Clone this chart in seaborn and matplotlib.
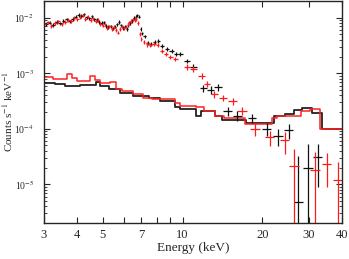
import numpy as np
import seaborn as sns
import matplotlib
matplotlib.use("Agg")
import matplotlib.pyplot as plt
from matplotlib.ticker import FixedLocator, FixedFormatter, LogLocator, NullFormatter

# spectrum 1 (black) data points: energy, half bin width, counts, error
blk_e = [3.05, 3.15, 3.25, 3.35, 3.45, 3.55, 3.65, 3.75, 3.85, 3.95,
         4.05, 4.15, 4.25, 4.35, 4.45, 4.55, 4.65, 4.75, 4.85, 4.95,
         5.05, 5.15, 5.25, 5.35, 5.45, 5.55, 5.65, 5.75, 5.85, 5.95,
         6.05, 6.15, 6.25, 6.35, 6.45, 6.55, 6.65, 6.75, 6.85, 6.95,
         7.05, 7.2, 7.4, 7.6, 7.85, 8.1, 8.4, 8.75, 9.1, 9.45,
         9.8, 10.4, 11.0, 12.0, 12.8, 13.6, 14.8, 16.1, 18.3, 20.8,
         22.9, 25.2, 27.4, 29.8, 32.4]
blk_dx = [0.05] * 40 + [0.05, 0.08, 0.1, 0.1, 0.12, 0.12, 0.15, 0.18, 0.18, 0.18,
                        0.2, 0.25, 0.3, 0.35, 0.4, 0.45, 0.55, 0.6, 0.7, 0.8,
                        1.0, 1.0, 1.1, 1.2, 1.3]
blk_y = [7.6e-3, 8.2e-3, 7.4e-3, 8.4e-3, 7.9e-3, 8.8e-3, 9.3e-3, 8.6e-3, 9.6e-3, 1.05e-2,
         1.12e-2, 1.08e-2, 1.15e-2, 1.02e-2, 9.8e-3, 1.06e-2, 9.4e-3, 9.0e-3, 8.4e-3, 8.0e-3,
         8.3e-3, 7.1e-3, 6.8e-3, 7.0e-3, 6.4e-3, 6.9e-3, 7.6e-3, 8.4e-3, 7.3e-3, 6.6e-3,
         6.9e-3, 6.3e-3, 7.4e-3, 8.0e-3, 8.8e-3, 9.9e-3, 1.05e-2, 1.1e-2, 1.04e-2, 6.2e-3,
         5.2e-3, 4.6e-3, 3.5e-3, 3.4e-3, 3.6e-3, 3.8e-3, 3.1e-3, 2.75e-3, 2.5e-3, 2.2e-3,
         2.2e-3, 1.67e-3, 1.3e-3, 5.4e-4, 5.0e-4, 5.6e-4, 2.1e-4, 1.7e-4, 1.56e-4, 1.0e-4,
         7.3e-5, 9.4e-5, 4.7e-6, 2.0e-5, 3.1e-5]
blk_dy = [6e-4, 6e-4, 6e-4, 6e-4, 6e-4, 6e-4, 7e-4, 6e-4, 7e-4, 7e-4,
          8e-4, 8e-4, 8e-4, 7e-4, 7e-4, 8e-4, 7e-4, 7e-4, 6e-4, 6e-4,
          6e-4, 5e-4, 5e-4, 5e-4, 5e-4, 5e-4, 6e-4, 6e-4, 5e-4, 5e-4,
          5e-4, 5e-4, 5e-4, 6e-4, 6e-4, 7e-4, 7e-4, 7e-4, 7e-4, 5e-4,
          4e-4, 3.5e-4, 3e-4, 3e-4, 3e-4, 3e-4, 2.5e-4, 2.2e-4, 2e-4, 1.8e-4,
          1.8e-4, 1.6e-4, 1.4e-4, 8e-5, 8e-5, 8e-5, 4e-5, 3.5e-5, 3e-5, 2.5e-5,
          2.5e-5, 2.8e-5, 2.8e-5, 3.3e-5, 2.2e-5]

# spectrum 2 (red) data points
red_e = [3.0, 3.1, 3.2, 3.3, 3.4, 3.5, 3.6, 3.7, 3.8, 3.9,
         4.0, 4.1, 4.2, 4.3, 4.4, 4.5, 4.6, 4.7, 4.8, 4.9,
         5.0, 5.1, 5.2, 5.3, 5.4, 5.5, 5.6, 5.7, 5.8, 5.9,
         6.0, 6.1, 6.2, 6.3, 6.4, 6.5, 6.6, 6.7, 6.8, 6.9,
         7.0, 7.15, 7.35, 7.55, 7.8, 8.05, 8.35, 8.65, 9.0, 9.4,
         10.4, 11.0, 11.8, 12.4, 13.2, 14.2, 15.5, 16.8, 18.8, 21.3,
         24.3, 26.4, 31.6, 35.1, 38.6]
red_dx = [0.05] * 40 + [0.05, 0.08, 0.1, 0.1, 0.12, 0.12, 0.15, 0.15, 0.18, 0.2,
                        0.25, 0.3, 0.35, 0.35, 0.4, 0.5, 0.6, 0.7, 0.8, 0.9,
                        1.0, 1.1, 1.3, 1.4, 1.5]
red_y = [7.8e-3, 8.3e-3, 7.2e-3, 8.0e-3, 8.6e-3, 7.6e-3, 8.4e-3, 9.2e-3, 8.8e-3, 9.9e-3,
         9.4e-3, 1.02e-2, 1.1e-2, 9.6e-3, 1.04e-2, 9.0e-3, 9.8e-3, 8.6e-3, 9.2e-3, 7.8e-3,
         7.2e-3, 7.6e-3, 6.6e-3, 7.0e-3, 6.2e-3, 6.8e-3, 6.0e-3, 5.4e-3, 6.3e-3, 7.0e-3,
         6.5e-3, 6.9e-3, 7.5e-3, 8.3e-3, 8.8e-3, 9.3e-3, 9.0e-3, 9.6e-3, 8.0e-3, 5.1e-3,
         4.2e-3, 3.7e-3, 3.3e-3, 3.2e-3, 3.4e-3, 3.2e-3, 2.5e-3, 2.2e-3, 2.0e-3, 1.8e-3,
         1.3e-3, 1.2e-3, 8.9e-4, 6.4e-4, 4.2e-4, 3.6e-4, 3.15e-4, 2.1e-4, 1.0e-4, 7.0e-5,
         6.2e-5, 2.1e-5, 1.8e-5, 2.3e-5, 1.17e-5]
red_dy = [6e-4, 6e-4, 6e-4, 6e-4, 6e-4, 6e-4, 6e-4, 7e-4, 6e-4, 7e-4,
          7e-4, 7e-4, 8e-4, 7e-4, 7e-4, 7e-4, 7e-4, 6e-4, 7e-4, 6e-4,
          5e-4, 6e-4, 5e-4, 5e-4, 5e-4, 5e-4, 5e-4, 4e-4, 5e-4, 5e-4,
          5e-4, 5e-4, 5e-4, 6e-4, 6e-4, 7e-4, 7e-4, 7e-4, 6e-4, 4e-4,
          3.5e-4, 3e-4, 2.8e-4, 2.6e-4, 2.6e-4, 2.5e-4, 2e-4, 1.8e-4, 1.7e-4, 1.5e-4,
          1.4e-4, 1.3e-4, 1e-4, 8e-5, 6e-5, 5e-5, 4.5e-5, 3.5e-5, 2.5e-5, 2.2e-5,
          2.7e-5, 2.2e-5, 2.0e-5, 1.4e-5, 1.3e-5]

# background models as stepped histograms (bin lower edges, values)
blk_bkg_edge = [3.0, 3.3, 3.6, 4.1, 4.7, 4.9, 5.3, 5.8, 6.5, 7.5, 8.2, 9.4, 9.8,
                11.2, 11.7, 13.3, 14.1, 17.4, 22.2, 24.3, 26.4, 28.2, 30.7, 33.7, 40.0]
blk_bkg_val = [6.7e-4, 6.4e-4, 5.9e-4, 6.1e-4, 7.0e-4, 5.9e-4, 5.2e-4, 4.4e-4, 3.9e-4,
               3.6e-4, 3.2e-4, 2.45e-4, 2.25e-4, 1.7e-4, 2.1e-4, 1.7e-4, 1.44e-4, 1.26e-4,
               1.7e-4, 1.84e-4, 2.2e-4, 2.35e-4, 1.9e-4, 1.0e-4, 1.0e-4]
red_bkg_edge = [3.0, 3.24, 3.66, 3.83, 4.0, 4.47, 4.67, 4.88, 5.32, 5.63, 5.9, 6.5, 7.1,
                7.7, 9.37, 9.77, 11.2, 12.1, 13.3, 14.4, 17.2, 21.7, 22.7, 28.0, 30.3, 33.0, 40.0]
red_bkg_val = [8.6e-4, 7.9e-4, 9.7e-4, 8.2e-4, 7.3e-4, 8.9e-4, 7.5e-4, 6.6e-4, 7.0e-4,
               5.3e-4, 4.8e-4, 4.2e-4, 3.6e-4, 3.4e-4, 2.9e-4, 2.6e-4, 2.45e-4, 2.1e-4,
               1.7e-4, 1.56e-4, 1.2e-4, 1.56e-4, 1.7e-4, 2.1e-4, 2.3e-4, 9.8e-5, 9.8e-5]

x_ticks = [3, 4, 5, 6, 7, 8, 9, 10, 20, 30, 40]
x_labels = ['3', '4', '5', '', '7', '', '', '10', '20', '30', '40']
y_ticks = [1e-5, 1e-4, 1e-3, 1e-2]
y_labels = [r'10$^{-5}$', r'10$^{-4}$', r'10$^{-3}$', r'10$^{-2}$']

sns.set_style("ticks")
plt.rcParams['font.family'] = ['Liberation Serif', 'DejaVu Serif']
plt.rcParams['mathtext.fontset'] = 'stix'
plt.rcParams['font.size'] = 9

fig = plt.figure(figsize=(3.49, 2.59), dpi=100)
ax = fig.add_axes([0.126, 0.139, 0.854, 0.857])
ax.set_xscale('log')
ax.set_yscale('log')

sns.lineplot(x=blk_bkg_edge, y=blk_bkg_val, drawstyle='steps-post', color='#222222',
             lw=1.3, estimator=None, sort=False, ax=ax)
sns.lineplot(x=red_bkg_edge, y=red_bkg_val, drawstyle='steps-post', color='#ff2020',
             lw=1.1, estimator=None, sort=False, ax=ax)

ax.errorbar(blk_e, blk_y, xerr=blk_dx, yerr=blk_dy, fmt='none', ecolor='#111111', elinewidth=0.9)
ax.errorbar(red_e, red_y, xerr=red_dx, yerr=red_dy, fmt='none', ecolor='#ff1a1a', elinewidth=0.9)

ax.set_xlim(3, 40)
ax.set_ylim(2e-6, 2e-2)

ax.xaxis.set_major_locator(FixedLocator(x_ticks))
ax.xaxis.set_major_formatter(FixedFormatter(x_labels))
ax.xaxis.set_minor_locator(FixedLocator([]))
ax.yaxis.set_major_locator(FixedLocator(y_ticks))
ax.yaxis.set_major_formatter(FixedFormatter(y_labels))
ax.yaxis.set_minor_locator(LogLocator(base=10, subs=np.arange(2, 10)))
ax.yaxis.set_minor_formatter(NullFormatter())

ax.tick_params(which='both', direction='in', top=True, right=True)
ax.tick_params(axis='x', pad=4, labelsize=9)
ax.tick_params(axis='y', pad=7, labelsize=7)
ax.tick_params(which='major', length=4, width=0.8)
ax.tick_params(which='minor', length=2.5, width=0.6)
for s in ax.spines.values():
    s.set_linewidth(1.0)

ax.set_xlabel('Energy (keV)', fontsize=9.5, labelpad=1)
ax.set_ylabel(r'Counts s$^{-1}$ keV$^{-1}$', fontsize=8)
ax.yaxis.set_label_coords(-0.098, 0.5)

fig.savefig('out.png', dpi=100)
